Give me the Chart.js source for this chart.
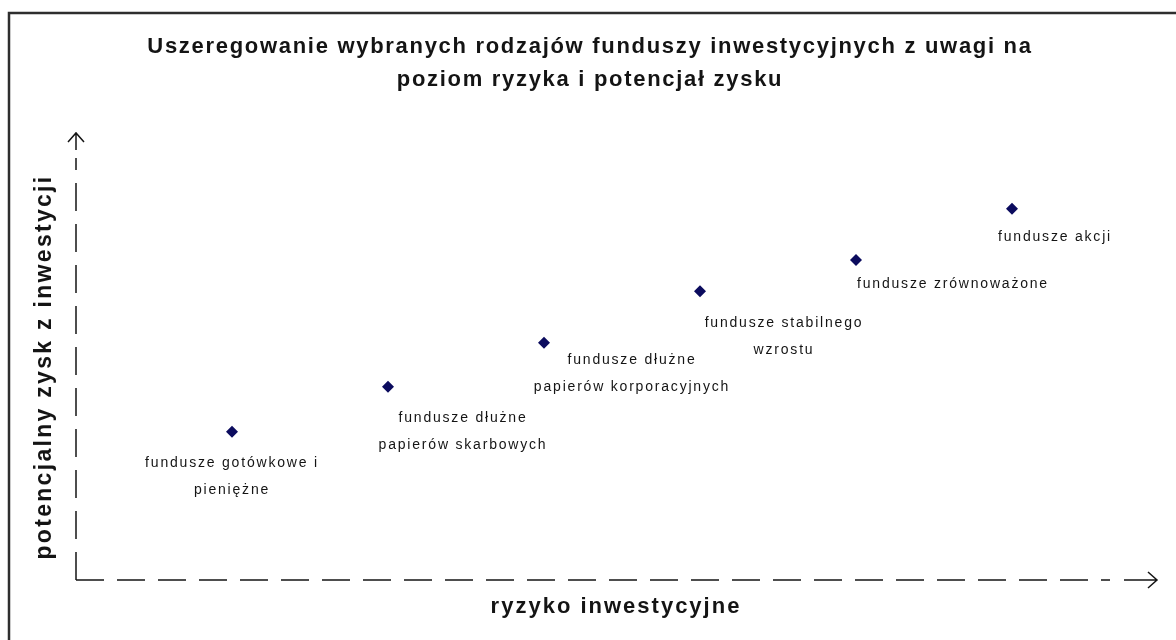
<!DOCTYPE html>
<html>
<head>
<meta charset="utf-8">
<script src="https://cdn.jsdelivr.net/npm/chart.js@4/dist/chart.umd.min.js"></script>
<style>
  html, body { margin: 0; background: #fff; }
  #wrap { width: 1176px; height: 640px; }
</style>
</head>
<body>
<div id="wrap"><canvas id="chart"></canvas></div>
<script>
// data
const titleLines = [
    'Uszeregowanie wybranych rodzajów funduszy inwestycyjnych z uwagi na',
    'poziom ryzyka i potencjał zysku'
]
const xTitle = 'ryzyko inwestycyjne'
const yTitle = 'potencjalny zysk z inwestycji'

const fundNames = [
    ['fundusze gotówkowe i', 'pieniężne'],
    ['fundusze dłużne', 'papierów skarbowych'],
    ['fundusze dłużne', 'papierów korporacyjnych'],
    ['fundusze stabilnego', 'wzrostu'],
    ['fundusze zrównoważone'],
    ['fundusze akcji']
]
const riskLevel = [1, 2, 3, 4, 5, 6]
const profitLevel = [3.33, 4.34, 5.33, 6.49, 7.19, 8.34]

// where each label sits relative to its point (px)
const labelShift = [[0, 31], [75, 31], [88, 17], [84, 32], [97, 24], [43, 28]]

const INK = '#141414'
const FONT = '"Liberation Sans", Arial, sans-serif'

function dashedLine(ctx, x1, y1, x2, y2) {
    ctx.save()
    ctx.setLineDash([28, 13])
    ctx.beginPath()
    ctx.moveTo(x1, y1)
    ctx.lineTo(x2, y2)
    ctx.stroke()
    ctx.restore()
}

const decorPlugin = {
    id: 'decor',
    beforeDraw(chart) {
        const { ctx, width, height } = chart
        ctx.save()
        ctx.fillStyle = '#fff'
        ctx.fillRect(0, 0, width, height)
        ctx.strokeStyle = '#2e2e2e'
        ctx.lineWidth = 2.5
        ctx.strokeRect(9, 13, width + 20, height + 20)

        // title
        ctx.fillStyle = INK
        ctx.textAlign = 'center'
        ctx.textBaseline = 'middle'
        ctx.font = 'bold 22px ' + FONT
        ctx.letterSpacing = '1.7px'
        titleLines.forEach((t, i) => ctx.fillText(t, 590, 47 + i * 33))

        // axes
        const xs = chart.scales.x, ys = chart.scales.y
        const x0 = xs.getPixelForValue(0)
        const y0 = ys.getPixelForValue(0)
        ctx.strokeStyle = INK
        ctx.lineWidth = 1.5
        dashedLine(ctx, x0, y0, 1110, y0)
        dashedLine(ctx, x0, y0, x0, 158)
        ctx.beginPath()
        ctx.moveTo(1124, y0); ctx.lineTo(1157, y0)
        ctx.moveTo(1148, y0 - 8); ctx.lineTo(1157, y0); ctx.lineTo(1148, y0 + 8)
        ctx.moveTo(x0, 150); ctx.lineTo(x0, 133)
        ctx.moveTo(x0 - 8, 142); ctx.lineTo(x0, 133); ctx.lineTo(x0 + 8, 142)
        ctx.stroke()

        // axis titles
        ctx.font = 'bold 22px ' + FONT
        ctx.letterSpacing = '2px'
        ctx.fillText(xTitle, 616, 607)
        ctx.save()
        ctx.translate(45, 367)
        ctx.rotate(-Math.PI / 2)
        ctx.font = 'bold 23px ' + FONT
        ctx.letterSpacing = '2.3px'
        ctx.fillText(yTitle, 0, 0)
        ctx.restore()
        ctx.restore()
    },
    afterDatasetsDraw(chart) {
        const { ctx } = chart
        const meta = chart.getDatasetMeta(0)
        ctx.save()
        ctx.fillStyle = INK
        ctx.textAlign = 'center'
        ctx.textBaseline = 'middle'
        ctx.font = '14px ' + FONT
        ctx.letterSpacing = '1.8px'
        meta.data.forEach((pt, i) => {
            const [dx, dy] = labelShift[i]
            fundNames[i].forEach((line, j) => {
                ctx.fillText(line, pt.x + dx, pt.y + dy + j * 27)
            })
        })
        ctx.restore()
    }
}

new Chart(document.getElementById('chart').getContext('2d'), {
    type: 'scatter',
    data: {
        datasets: [{
            data: riskLevel.map((x, i) => ({ x, y: profitLevel[i] })),
            pointStyle: 'rectRot',
            pointRadius: 6,
            pointHoverRadius: 6,
            backgroundColor: '#0b0b5e',
            borderColor: '#0b0b5e',
            borderWidth: 0
        }]
    },
    options: {
        responsive: true,
        maintainAspectRatio: false,
        animation: false,
        layout: { padding: { left: 76, right: 8, top: 135, bottom: 60 } },
        plugins: {
            legend: { display: false },
            tooltip: { enabled: false }
        },
        scales: {
            x: { type: 'linear', min: 0, max: 7, display: false },
            y: { type: 'linear', min: 0, max: 10, display: false }
        }
    },
    plugins: [decorPlugin]
})
</script>
</body>
</html>
